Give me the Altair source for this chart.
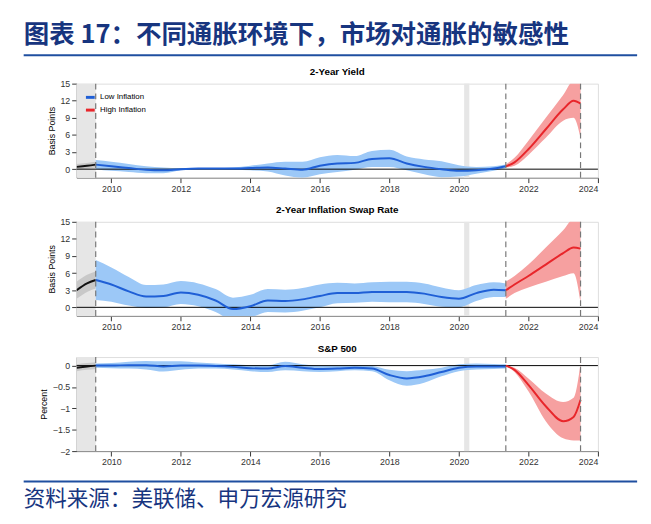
import pandas as pd
import altair as alt

FONT = "Liberation Sans"
CJK = "Noto Sans CJK SC"

# ---- data ----
split_a, split_b, split_c = 2009.55, 2021.35, 2023.5
covid = (2020.15, 2020.3)

pre_x = [2009.0, 2009.3, 2009.55]
low_x = [2009.55, 2010, 2010.5, 2011, 2011.5, 2012, 2012.5, 2013, 2013.5, 2014, 2014.5,
         2015, 2015.5, 2016, 2016.5, 2017, 2017.5, 2018, 2018.5, 2019, 2019.5, 2020,
         2020.5, 2021, 2021.35]
high_x = [2021.35, 2021.6, 2022, 2022.5, 2023, 2023.3, 2023.5]

# 2-Year Yield
y2_pre = [0.4, 0.6, 0.8]
y2_pre_hw = [0.5, 0.5, 0.5]
y2_low = [0.8, 0.5, 0.2, -0.1, -0.2, 0.0, 0.1, 0.1, 0.1, 0.2, 0.3, 0.1, -0.1, 0.6, 1.0,
          1.1, 1.8, 1.9, 1.0, 0.4, 0.0, -0.3, -0.2, 0.1, 0.5]
y2_low_hw = [0.8, 0.8, 0.7, 0.6, 0.5, 0.2, 0.1, 0.1, 0.2, 0.4, 0.7, 1.2, 1.4, 1.5, 1.5,
             1.2, 1.4, 1.5, 1.2, 1.3, 1.4, 1.0, 0.6, 0.4, 0.3]
y2_high = [0.5, 1.2, 3.5, 7.0, 10.5, 12.0, 11.5]
y2_high_lo = [0.3, 0.6, 2.5, 5.5, 8.5, 9.0, 5.5]
y2_high_hi = [0.8, 2.0, 5.0, 9.0, 13.0, 15.5, 15.5]

# 2-Year Inflation Swap Rate
sw_pre = [3.0, 4.2, 4.8]
sw_pre_hw = [1.5, 1.5, 1.5]
sw_low = [4.8, 4.0, 2.8, 1.9, 2.0, 2.6, 2.2, 1.2, -0.3, 0.2, 1.2, 1.1, 1.4, 2.0, 2.5,
          2.5, 2.7, 2.7, 2.7, 2.4, 1.8, 1.5, 2.5, 3.1, 3.0]
sw_low_hw = [3.5, 3.0, 2.5, 2.0, 2.0, 2.0, 2.0, 2.0, 2.0, 2.0, 2.0, 2.0, 2.0, 2.0, 1.8,
             1.7, 1.7, 1.8, 1.8, 1.8, 1.7, 1.5, 1.4, 1.3, 1.2]
sw_high = [3.0, 4.0, 5.5, 7.5, 9.5, 10.5, 10.3]
sw_high_lo = [1.5, 2.5, 3.5, 4.5, 5.5, 6.0, 1.0]
sw_high_hi = [4.5, 5.5, 7.5, 10.5, 13.5, 15.5, 15.5]

# S&P 500
sp_pre = [-0.05, -0.02, 0.0]
sp_pre_hw = [0.08, 0.08, 0.08]
sp_low = [0.0, 0.0, 0.01, 0.01, -0.02, 0.0, 0.0, -0.01, -0.03, -0.06, -0.07, -0.01,
          -0.05, -0.08, -0.07, -0.05, -0.07, -0.22, -0.3, -0.25, -0.15, -0.05, -0.02,
          -0.02, -0.02]
sp_low_hw = [0.05, 0.06, 0.08, 0.1, 0.12, 0.1, 0.07, 0.06, 0.06, 0.07, 0.08, 0.1, 0.08,
             0.07, 0.06, 0.06, 0.06, 0.12, 0.17, 0.15, 0.1, 0.08, 0.07, 0.06, 0.05]
sp_high = [0.0, -0.1, -0.45, -0.95, -1.3, -1.2, -0.8]
sp_high_lo = [0.0, -0.15, -0.6, -1.3, -1.7, -1.75, -1.75]
sp_high_hi = [0.0, -0.05, -0.3, -0.65, -0.85, -0.75, 0.05]

W, H = 532, 96
x_scale = alt.Scale(domain=[2009, 2024], nice=False, zero=False)
x_axis = alt.Axis(values=list(range(2010, 2025, 2)), format="d", title=None, grid=False,
                  labelFontSize=9, labelColor="#333", tickColor="#333", domainColor="#888")
col_scale = alt.Scale(domain=["Low Inflation", "High Inflation", "pre"],
                      range=["#1f5fd6", "#e8262b", "#111111"])
band_scale = alt.Scale(domain=["b_low", "b_high", "b_pre"],
                       range=["#9cc8f7", "#f6a0a0", "#c8c8c8"])
band_name = {"Low Inflation": "b_low", "High Inflation": "b_high", "pre": "b_pre"}


def frame(pre, pre_hw, low, low_hw, high, high_lo, high_hi):
    rows = []
    for x, m, h in zip(pre_x, pre, pre_hw):
        rows.append(("pre", x, m, m - h, m + h))
    for x, m, h in zip(low_x, low, low_hw):
        rows.append(("Low Inflation", x, m, m - h, m + h))
    for x, m, lo, hi in zip(high_x, high, high_lo, high_hi):
        rows.append(("High Inflation", x, m, lo, hi))
    df = pd.DataFrame(rows, columns=["series", "year", "mid", "lo", "hi"])
    df["band"] = df["series"].map(band_name)
    return df


def panel(df, title, ydom, yticks, ytitle, legend=False):
    y_scale = alt.Scale(domain=ydom, nice=False, zero=False)
    y_axis = alt.Axis(values=yticks, title=ytitle, grid=False, labelFontSize=9, format="~g",
                      titleFontSize=9, titleFontWeight="normal", labelColor="#333",
                      tickColor="#333", domainColor="#888", titlePadding=4)
    shade = alt.Chart(pd.DataFrame({"a": [2009.0, covid[0]], "b": [split_a, covid[1]]})).mark_rect(
        color="#e6e6e6").encode(
        x=alt.X("a:Q", scale=x_scale, axis=x_axis), x2="b:Q",
        y=alt.value(0), y2=alt.value(H))
    base = alt.Chart(df)
    band = base.mark_area(interpolate="monotone", clip=True).encode(
        x=alt.X("year:Q", scale=x_scale, axis=x_axis),
        y=alt.Y("lo:Q", scale=y_scale, axis=y_axis), y2="hi:Q",
        color=alt.Color("band:N", scale=band_scale, legend=None))
    zero = alt.Chart(pd.DataFrame({"z": [0]})).mark_rule(color="#000", strokeWidth=1).encode(
        y=alt.Y("z:Q", scale=y_scale, axis=y_axis))
    if legend:
        leg = alt.Legend(title=None, orient="top-left", values=["Low Inflation", "High Inflation"],
                         symbolType="stroke", symbolStrokeWidth=3, symbolSize=80,
                         labelFontSize=8, labelFont=FONT, padding=2, rowPadding=1, offset=6)
        color_enc = alt.Color("series:N", scale=col_scale, legend=leg)
    else:
        color_enc = alt.Color("series:N", scale=col_scale, legend=None)
    line = base.mark_line(interpolate="monotone", strokeWidth=2, clip=True).encode(
        x=alt.X("year:Q", scale=x_scale, axis=x_axis),
        y=alt.Y("mid:Q", scale=y_scale, axis=y_axis), color=color_enc)
    vlines = alt.Chart(pd.DataFrame({"v": [split_a, split_b, split_c]})).mark_rule(
        color="#777", strokeDash=[6, 4], strokeWidth=1.2).encode(
        x=alt.X("v:Q", scale=x_scale, axis=x_axis))
    return alt.layer(shade, band, zero, line, vlines).resolve_scale(
        color="independent").properties(
        width=W, height=H,
        title=alt.TitleParams(title, fontSize=10, font=FONT, fontWeight="bold", offset=3))


p1 = panel(frame(y2_pre, y2_pre_hw, y2_low, y2_low_hw, y2_high, y2_high_lo, y2_high_hi),
           "2-Year Yield", [-1.5, 15], [0, 3, 6, 9, 12, 15], "Basis Points", legend=True)
p2 = panel(frame(sw_pre, sw_pre_hw, sw_low, sw_low_hw, sw_high, sw_high_lo, sw_high_hi),
           "2-Year Inflation Swap Rate", [-1.5, 15], [0, 3, 6, 9, 12, 15], "Basis Points")
p3 = panel(frame(sp_pre, sp_pre_hw, sp_low, sp_low_hw, sp_high, sp_high_lo, sp_high_hi),
           "S&P 500", [-2, 0.2], [0, -0.5, -1, -1.5, -2], "Percent")

header = alt.Chart(pd.DataFrame({"t": ["图表 17：不同通胀环境下，市场对通胀的敏感性"]})).mark_text(
    align="left", baseline="middle", font=CJK, fontSize=26, fontWeight="bold",
    color="#17357f").encode(text="t:N", x=alt.value(-54), y=alt.value(4))
header_rule = alt.Chart(pd.DataFrame({"a": [0]})).mark_rule(color="#1f4fa0", strokeWidth=2).encode(
    x=alt.value(-54), x2=alt.value(572), y=alt.value(24))
top = alt.layer(header, header_rule).properties(width=W, height=18, view=alt.ViewBackground(stroke=None))

footer = alt.Chart(pd.DataFrame({"t": ["资料来源：美联储、申万宏源研究"]})).mark_text(
    align="left", baseline="middle", font=CJK, fontSize=22,
    color="#17357f").encode(text="t:N", x=alt.value(-54), y=alt.value(22))
footer_rule = alt.Chart(pd.DataFrame({"a": [0]})).mark_rule(color="#1f4fa0", strokeWidth=2).encode(
    x=alt.value(-54), x2=alt.value(572), y=alt.value(4))
bottom = alt.layer(footer, footer_rule).properties(width=W, height=22, view=alt.ViewBackground(stroke=None))

chart = alt.vconcat(top, p1, p2, p3, bottom, spacing=10).configure_view(stroke="#888").configure(
    font=FONT).properties(padding={"left": 15, "top": 10, "right": 5, "bottom": 0})

chart.save("out.html", embed_options={"renderer": "svg", "actions": False})
